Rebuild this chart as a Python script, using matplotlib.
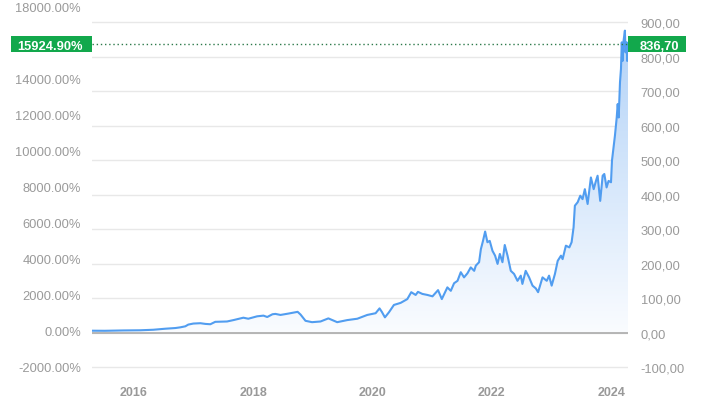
import matplotlib
matplotlib.use('Agg')
import matplotlib.pyplot as plt
import matplotlib.dates as mdates
from matplotlib.colors import LinearSegmentedColormap
from matplotlib.patches import Rectangle
import numpy as np
import pandas as pd

plt.rcParams['font.family'] = ['Liberation Sans', 'DejaVu Sans']

# Price history
dates = [
    '2015-04-22', '2015-07-10', '2015-10-29', '2016-02-11', '2016-05-01', '2016-07-13',
    '2016-09-13', '2016-10-13', '2016-11-13', '2016-12-01', '2017-01-01', '2017-02-13',
    '2017-03-15', '2017-04-15', '2017-05-15', '2017-07-26', '2017-09-03', '2017-11-03',
    '2017-12-03', '2018-01-26', '2018-03-06', '2018-03-29', '2018-04-30', '2018-05-18',
    '2018-06-18', '2018-08-06', '2018-09-18', '2018-10-01', '2018-10-19', '2018-11-18',
    '2018-12-28', '2019-02-18', '2019-04-07', '2019-05-31', '2019-07-31', '2019-10-01',
    '2019-12-01', '2020-01-21', '2020-02-14', '2020-02-28', '2020-03-18', '2020-04-12',
    '2020-05-12', '2020-06-22', '2020-08-02', '2020-08-26', '2020-09-22', '2020-10-06',
    '2020-11-02', '2020-12-03', '2021-01-03', '2021-02-06', '2021-03-01', '2021-04-04',
    '2021-04-25', '2021-05-15', '2021-06-05', '2021-06-25', '2021-07-15', '2021-08-05',
    '2021-08-25', '2021-09-15', '2021-09-25', '2021-10-15', '2021-10-26', '2021-11-08',
    '2021-11-21', '2021-12-05', '2021-12-19', '2022-01-05', '2022-01-21', '2022-02-05',
    '2022-02-19', '2022-03-07', '2022-03-21', '2022-04-07', '2022-04-27', '2022-05-17',
    '2022-06-07', '2022-06-27', '2022-07-07', '2022-07-27', '2022-08-17', '2022-09-07',
    '2022-09-27', '2022-10-11', '2022-11-07', '2022-12-03', '2022-12-17', '2023-01-02',
    '2023-01-22', '2023-02-08', '2023-02-28', '2023-03-10', '2023-03-30', '2023-04-20',
    '2023-05-04', '2023-05-16', '2023-05-24', '2023-06-10', '2023-06-26', '2023-07-10',
    '2023-07-24', '2023-08-10', '2023-08-30', '2023-09-16', '2023-09-30', '2023-10-10',
    '2023-10-26', '2023-11-10', '2023-11-20', '2023-12-04', '2023-12-16', '2023-12-31',
    '2024-01-06', '2024-01-14', '2024-01-24', '2024-02-04', '2024-02-10', '2024-02-16',
    '2024-02-24', '2024-03-01', '2024-03-06', '2024-03-11', '2024-03-17', '2024-03-25',
    '2024-03-29', '2024-04-05', '2024-04-08', '2024-04-13',
]
prices = [
    5.22, 5.0, 6.0, 6.5, 8, 11,
    13, 15, 18, 23, 26, 27,
    25, 24, 31, 32, 36, 43,
    40, 47, 49, 45, 53, 54,
    51, 55, 59, 60, 52, 34,
    30, 32, 41, 30, 36, 40,
    51, 56, 70, 60, 44, 59,
    80, 86, 97, 117, 109, 118,
    112, 109, 105, 123, 97, 131,
    121, 143, 150, 175, 160, 172,
    189, 179, 194, 204, 242, 266,
    293, 262, 266, 237, 223, 199,
    228, 204, 254, 223, 179, 170,
    150, 165, 141, 179, 160, 136,
    128, 117, 160, 150, 165, 136,
    170, 208, 223, 213, 252, 247,
    262, 305, 368, 378, 397, 387,
    416, 373, 450, 416, 440, 455,
    382, 455, 460, 421, 440, 436,
    499, 532, 571, 624, 663, 624,
    726, 765, 842, 788, 847, 876,
    813, 842, 788, 836.70,
]

base_price = 5.2217
last_price = 836.70
last_pct = 15924.90

price_ticks = [-100, 0, 100, 200, 300, 400, 500, 600, 700, 800, 900]
pct_ticks = [-2000, 0, 2000, 4000, 6000, 8000, 10000, 12000, 14000, 18000]
year_ticks = ['2016', '2018', '2020', '2022', '2024']

W, H = 707, 414
x = mdates.date2num(pd.to_datetime(dates))

fig = plt.figure(figsize=(W / 100, H / 100), dpi=100, facecolor='white')
ax = fig.add_axes([92 / W, 1 - 380 / H, (628 - 92) / W, 380 / H])

# gradient fill under the line
poly = ax.fill_between(x, prices, 0, color='none', lw=0)
cmap = LinearSegmentedColormap.from_list('fade', ['#fafcff', '#b0d1f7'])
grad = np.linspace(0, 1, 256).reshape(-1, 1)
img = ax.imshow(grad, cmap=cmap, aspect='auto', origin='lower',
                extent=[x[0], x[-1], 0, 900], zorder=1)
img.set_clip_path(poly.get_paths()[0], transform=ax.transData)

ax.plot(x, prices, color='#519df0', lw=1.5, zorder=3)
ax.axhline(0, color='#b0b0b0', lw=1.3, zorder=2)
ax.axhline(last_price, color='#2d7a4b', lw=1, ls=(0, (1, 2)), zorder=4)

ymin, ymax = -134.9, 967.8
ax.set_xlim(x[0], x[-1])
ax.set_ylim(ymin, ymax)
ax.grid(axis='y', color='#e8e8e8', lw=1, zorder=0)
ax.set_axisbelow(True)
for s in ax.spines.values():
    s.set_visible(False)

# left axis in percent change from the first price
axl = ax.twinx()
axl.set_ylim((ymin / base_price - 1) * 100, (ymax / base_price - 1) * 100)
axl.yaxis.tick_left()
axl.set_yticks(pct_ticks)
axl.set_yticklabels([f'{v:.2f}%' for v in pct_ticks])
axl.tick_params(axis='y', length=0, pad=8, labelsize=9.3, labelcolor='#9a9a9a')
for s in axl.spines.values():
    s.set_visible(False)

# price axis on the right (twinx moved it left, put it back)
ax.yaxis.tick_right()
ax.set_yticks(price_ticks)
ax.set_yticklabels([f'{v:.2f}'.replace('.', ',') for v in price_ticks])
ax.set_xticks(mdates.date2num(pd.to_datetime([y + '-01-01' for y in year_ticks])))
ax.set_xticklabels(year_ticks, fontweight='bold')
ax.tick_params(axis='y', length=0, pad=9, labelsize=9.3, labelcolor='#9a9a9a')
ax.tick_params(axis='x', length=0, pad=5, labelsize=9, labelcolor='#999999')

# value badges
badge_y = 1 - 53 / H
badge_h = 16 / H
fig.patches.append(Rectangle((11 / W, badge_y), 81 / W, badge_h, transform=fig.transFigure,
                             facecolor='#12a84c', edgecolor='none', zorder=5))
fig.patches.append(Rectangle((628 / W, badge_y), 58 / W, badge_h, transform=fig.transFigure,
                             facecolor='#12a84c', edgecolor='none', zorder=5))
fig.text(50 / W, badge_y + badge_h / 2, f'{last_pct:.2f}%', color='white', fontweight='bold',
         fontsize=9.3, ha='center', va='center_baseline', zorder=6)
fig.text(659 / W, badge_y + badge_h / 2, f'{last_price:.2f}'.replace('.', ','), color='white',
         fontweight='bold', fontsize=9.3, ha='center', va='center_baseline', zorder=6)

fig.savefig('out.png', dpi=100)
